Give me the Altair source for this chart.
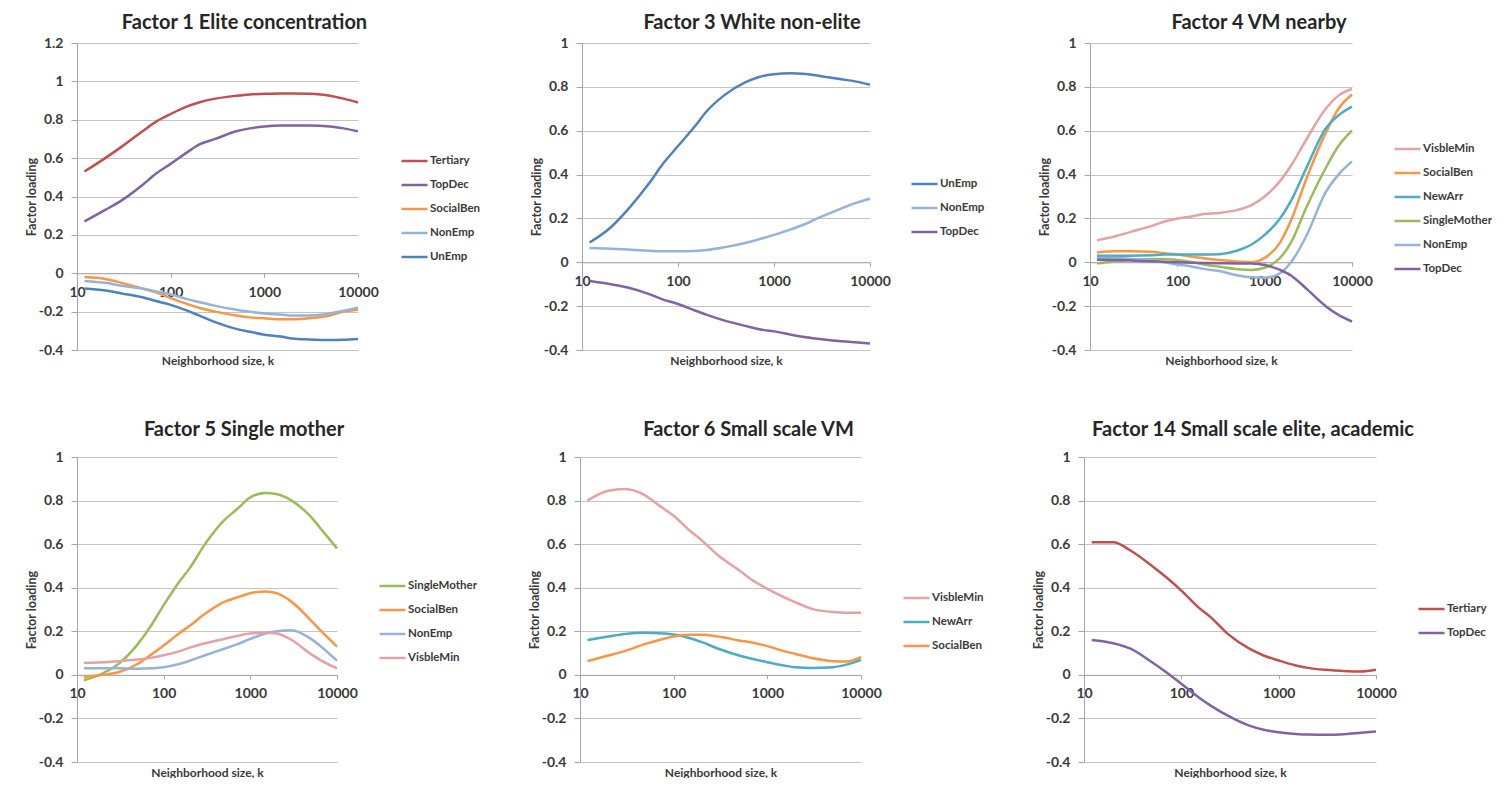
import altair as alt
import pandas as pd

# ---------------- data ----------------
K = [12, 20, 30, 50, 70, 100, 150, 200, 300, 500, 700, 1000, 1500, 2000, 3000, 5000, 7000, 10000]

# Factor 1 Elite concentration
F1_TERTIARY = [0.53, 0.60, 0.66, 0.74, 0.79, 0.83, 0.87, 0.89, 0.91, 0.925, 0.932, 0.935, 0.937, 0.937, 0.935, 0.925, 0.91, 0.89]
F1_TOPDEC = [0.27, 0.33, 0.38, 0.46, 0.52, 0.57, 0.63, 0.67, 0.70, 0.74, 0.755, 0.765, 0.77, 0.77, 0.77, 0.765, 0.755, 0.74]
F1_SOCIALBEN = [-0.02, -0.03, -0.05, -0.08, -0.10, -0.13, -0.16, -0.18, -0.20, -0.22, -0.23, -0.235, -0.24, -0.24, -0.235, -0.22, -0.20, -0.19]
F1_NONEMP = [-0.04, -0.05, -0.065, -0.08, -0.095, -0.11, -0.135, -0.15, -0.17, -0.19, -0.20, -0.21, -0.215, -0.22, -0.22, -0.21, -0.195, -0.18]
F1_UNEMP = [-0.08, -0.09, -0.105, -0.125, -0.145, -0.165, -0.195, -0.22, -0.255, -0.29, -0.305, -0.32, -0.33, -0.34, -0.345, -0.348, -0.347, -0.343]

# Factor 3 White non-elite
F3_UNEMP = [0.09, 0.16, 0.24, 0.36, 0.45, 0.53, 0.62, 0.69, 0.76, 0.82, 0.845, 0.858, 0.862, 0.86, 0.85, 0.835, 0.825, 0.81]
F3_NONEMP = [0.065, 0.062, 0.058, 0.053, 0.05, 0.05, 0.052, 0.056, 0.068, 0.088, 0.105, 0.125, 0.15, 0.17, 0.205, 0.245, 0.27, 0.29]
F3_TOPDEC = [-0.085, -0.10, -0.115, -0.145, -0.17, -0.19, -0.22, -0.24, -0.265, -0.29, -0.305, -0.315, -0.33, -0.34, -0.35, -0.36, -0.365, -0.37]

# Factor 4 VM nearby
F4_VISBLEMIN = [0.10, 0.12, 0.14, 0.165, 0.185, 0.20, 0.21, 0.22, 0.225, 0.24, 0.26, 0.30, 0.37, 0.44, 0.56, 0.70, 0.76, 0.79]
F4_SOCIALBEN = [0.045, 0.05, 0.05, 0.048, 0.042, 0.035, 0.025, 0.018, 0.01, 0.003, 0.0, 0.02, 0.09, 0.19, 0.38, 0.59, 0.70, 0.765]
F4_NEWARR = [0.03, 0.03, 0.03, 0.032, 0.035, 0.035, 0.035, 0.035, 0.037, 0.055, 0.08, 0.125, 0.20, 0.28, 0.43, 0.61, 0.67, 0.71]
F4_SINGLEMOTHER = [-0.005, 0.005, 0.012, 0.015, 0.015, 0.01, 0.0, -0.01, -0.02, -0.032, -0.035, -0.025, 0.02, 0.09, 0.25, 0.43, 0.53, 0.60]
F4_NONEMP = [0.02, 0.02, 0.015, 0.01, 0.0, -0.01, -0.02, -0.03, -0.04, -0.06, -0.068, -0.07, -0.05, 0.0, 0.12, 0.32, 0.40, 0.46]
F4_TOPDEC = [0.012, 0.01, 0.008, 0.005, 0.002, 0.0, -0.002, -0.003, -0.004, -0.005, -0.006, -0.012, -0.035, -0.06, -0.12, -0.20, -0.24, -0.27]

# Factor 5 Single mother
F5_SINGLEMOTHER = [-0.025, 0.008, 0.05, 0.14, 0.22, 0.32, 0.425, 0.49, 0.60, 0.71, 0.76, 0.815, 0.835, 0.83, 0.80, 0.725, 0.655, 0.58]
F5_SOCIALBEN = [-0.01, 0.0, 0.012, 0.05, 0.09, 0.135, 0.19, 0.225, 0.28, 0.335, 0.355, 0.375, 0.383, 0.375, 0.335, 0.25, 0.19, 0.13]
F5_NONEMP = [0.03, 0.03, 0.03, 0.028, 0.03, 0.035, 0.05, 0.065, 0.09, 0.12, 0.14, 0.165, 0.19, 0.20, 0.205, 0.165, 0.12, 0.065]
F5_VISBLEMIN = [0.055, 0.058, 0.063, 0.07, 0.078, 0.09, 0.108, 0.125, 0.145, 0.165, 0.178, 0.19, 0.193, 0.19, 0.16, 0.095, 0.06, 0.03]

# Factor 6 Small scale VM
F6_VISBLEMIN = [0.80, 0.845, 0.853, 0.823, 0.777, 0.73, 0.66, 0.617, 0.548, 0.48, 0.433, 0.395, 0.357, 0.333, 0.303, 0.288, 0.285, 0.285]
F6_NEWARR = [0.16, 0.176, 0.188, 0.193, 0.191, 0.185, 0.168, 0.15, 0.12, 0.089, 0.073, 0.058, 0.043, 0.035, 0.032, 0.035, 0.047, 0.069]
F6_SOCIALBEN = [0.063, 0.089, 0.109, 0.142, 0.16, 0.176, 0.184, 0.184, 0.176, 0.158, 0.147, 0.132, 0.109, 0.096, 0.077, 0.063, 0.061, 0.081]

# Factor 14 Small scale elite, academic
F14_TERTIARY = [0.609, 0.609, 0.571, 0.50, 0.448, 0.387, 0.31, 0.265, 0.188, 0.12, 0.089, 0.066, 0.043, 0.032, 0.023, 0.017, 0.015, 0.023]
F14_TOPDEC = [0.16, 0.145, 0.12, 0.058, 0.012, -0.041, -0.103, -0.141, -0.187, -0.233, -0.252, -0.263, -0.271, -0.274, -0.275, -0.271, -0.266, -0.26]

X_TICKS = [10, 100, 1000, 10000]

# ---------------- style ----------------
COL = {
    "Tertiary": "#C0504D",
    "TopDec": "#8064A2",
    "SocialBen": "#F79646",
    "NonEmp": "#95B3D7",
    "UnEmp": "#4F81BD",
    "VisbleMin": "#E3A2A5",
    "NewArr": "#4BACC6",
    "SingleMother": "#9BBB59",
}
FONT = "Lato"
TXT = "#3A3A3A"
GRID = "#C4C4C4"
AXC = "#A6A6A6"


def make_df(series):
    rows = []
    for name, vals in series:
        for k, v in zip(K, vals):
            rows.append({"k": k, "loading": v, "series": name})
    return pd.DataFrame(rows)


def panel(title, series, ydom, W, H, lx, lcy, tdx, toff):
    df = make_df(series)
    order = [s[0] for s in series]
    lo, hi = ydom
    y0 = H * hi / (hi - lo)
    below = H - y0
    yvals = [round(lo + 0.2 * i, 1) for i in range(int(round((hi - lo) / 0.2)) + 1)]
    return alt.Chart(df).mark_line(interpolate="monotone", strokeWidth=2.5).encode(
        x=alt.X("k:Q", scale=alt.Scale(type="log", domain=[10, 10000], nice=False),
                axis=alt.Axis(values=X_TICKS, format="d", grid=False, labelFlush=False,
                              offset=-below, domainColor=AXC, tickColor=AXC, tickSize=4,
                              labelPadding=8, labelFont=FONT, labelFontSize=14,
                              labelFontWeight="bold", labelColor=TXT,
                              title="Neighborhood size, k", titleY=below + 5,
                              titleFont=FONT, titleFontSize=12, titleFontWeight="bold",
                              titleColor=TXT)),
        y=alt.Y("loading:Q", scale=alt.Scale(domain=list(ydom), nice=False, zero=False),
                axis=alt.Axis(values=yvals, format=".1~f",
                              labelExpr="replace(datum.label, '\u2212', '-')",
                              grid=True, gridColor=GRID, domainColor=AXC, tickColor=AXC,
                              tickSize=6, labelPadding=8, labelFont=FONT, labelFontSize=14,
                              labelFontWeight="bold", labelColor=TXT,
                              title="Factor loading", titleFont=FONT, titleFontSize=12.5,
                              titleFontWeight="bold", titleColor=TXT, titlePadding=0)),
        color=alt.Color("series:N", sort=order,
                        scale=alt.Scale(domain=order, range=[COL[s] for s in order]),
                        legend=alt.Legend(orient="none", legendX=lx, legendY=lcy - 13.5,
                                          title=None, symbolType="stroke", symbolSize=676,
                                          symbolStrokeWidth=2.5, labelFont=FONT,
                                          labelFontSize=11.5, labelFontWeight="bold",
                                          labelColor=TXT, labelOffset=1, rowPadding=4,
                                          padding=0)),
    ).properties(
        width=W, height=H,
        title=alt.TitleParams(title, font=FONT, fontSize=20, fontWeight="bold",
                              color="#262626", anchor="middle", frame="group",
                              dx=tdx, baseline="alphabetic", offset=toff),
    )


p1 = panel("Factor 1 Elite concentration",
           [("Tertiary", F1_TERTIARY), ("TopDec", F1_TOPDEC), ("SocialBen", F1_SOCIALBEN),
            ("NonEmp", F1_NONEMP), ("UnEmp", F1_UNEMP)],
           (-0.4, 1.2), 281, 307, 323, 117, 27, -13)
p2 = panel("Factor 3 White non-elite",
           [("UnEmp", F3_UNEMP), ("NonEmp", F3_NONEMP), ("TopDec", F3_TOPDEC)],
           (-0.4, 1.0), 288, 307, 328, 140, 26, -13)
p3 = panel("Factor 4 VM nearby",
           [("VisbleMin", F4_VISBLEMIN), ("SocialBen", F4_SOCIALBEN), ("NewArr", F4_NEWARR),
            ("SingleMother", F4_SINGLEMOTHER), ("NonEmp", F4_NONEMP), ("TopDec", F4_TOPDEC)],
           (-0.4, 1.0), 262, 307, 303, 105, 38, -13)
p4 = panel("Factor 5 Single mother",
           [("SingleMother", F5_SINGLEMOTHER), ("SocialBen", F5_SOCIALBEN),
            ("NonEmp", F5_NONEMP), ("VisbleMin", F5_VISBLEMIN)],
           (-0.4, 1.0), 260, 305, 301, 128, 37, -6)
p5 = panel("Factor 6 Small scale VM",
           [("VisbleMin", F6_VISBLEMIN), ("NewArr", F6_NEWARR), ("SocialBen", F6_SOCIALBEN)],
           (-0.4, 1.0), 281, 305, 322, 140, 28, -6)
p6 = panel("Factor 14 Small scale elite, academic",
           [("Tertiary", F14_TERTIARY), ("TopDec", F14_TOPDEC)],
           (-0.4, 1.0), 292, 305, 333, 151, 23, -6)

row1 = alt.hconcat(
    p1,
    alt.hconcat(p2, p3, spacing=220, bounds="flush").resolve_scale(color="independent"),
    spacing=224, bounds="flush",
).resolve_scale(color="independent")
row2 = alt.hconcat(
    p4,
    alt.hconcat(p5, p6, spacing=223, bounds="flush").resolve_scale(color="independent"),
    spacing=243, bounds="flush",
).resolve_scale(color="independent")

chart = alt.vconcat(row1, row2, spacing=54).resolve_scale(
    color="independent"
).properties(
    padding={"left": 17, "top": 5, "right": 0, "bottom": 0}, background="white"
).configure_view(stroke=None)

chart.save("out.html", embed_options={"renderer": "svg", "actions": False})
